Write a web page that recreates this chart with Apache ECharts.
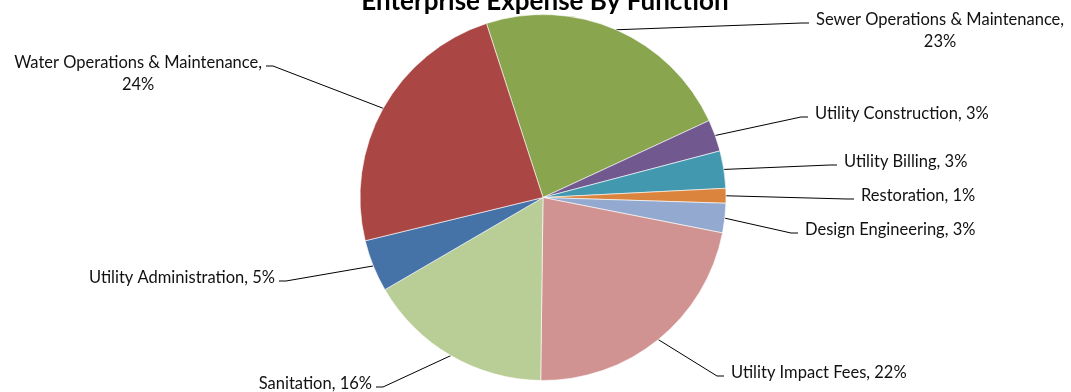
<!DOCTYPE html>
<html>
<head>
<meta charset="utf-8">
<script src="https://cdn.jsdelivr.net/npm/echarts@6/dist/echarts.min.js"></script>
<style>
  html, body { margin: 0; padding: 0; background: #ffffff; }
  #chart { width: 1071px; height: 392px; }
</style>
</head>
<body>
<div id="chart"></div>
<script>
// Enterprise expense split by function (percent of total)
const chartTitle = 'Enterprise Expense By Function';
const categories = [
  'Sewer Operations & Maintenance',
  'Utility Construction',
  'Utility Billing',
  'Restoration',
  'Design Engineering',
  'Utility Impact Fees',
  'Sanitation',
  'Utility Administration',
  'Water Operations & Maintenance'
];
const shares = [23.1, 2.8, 3.3, 1.3, 2.6, 22.1, 16.4, 4.6, 23.8];
const sliceColors = [
  '#89A54E', '#71588F', '#4198AF', '#DB843D', '#93A9CF',
  '#D19392', '#B9CD96', '#4572A7', '#AA4643'
];

// Where each leader line meets its label: [x, y, side] (side 1 = label to the right)
const labelAnchors = [
  [809, 23, 1], [808, 117, 1], [837, 165, 1], [854, 199, 1], [798, 233, 1],
  [724, 376, 1], [376, 387, -1], [279, 281, -1], [266, 66, -1]
];

const LABEL_FONT = 16.5;
const LINE_H = 22;
const STUB = 7;

const chart = echarts.init(document.getElementById('chart'), null, { renderer: 'canvas' });

const data = categories.map((name, i) => ({
  name: name,
  value: shares[i],
  itemStyle: { color: sliceColors[i] }
}));

chart.setOption({
  backgroundColor: '#ffffff',
  animation: false,
  title: {
    text: chartTitle,
    left: 540,
    top: -16.5,
    textAlign: 'center',
    textStyle: {
      fontFamily: 'Lato',
      fontWeight: 'bold',
      fontSize: 26,
      color: '#000000'
    }
  },
  series: [{
    type: 'pie',
    center: [543, 197.5],
    radius: 183,
    startAngle: 108,
    clockwise: true,
    avoidLabelOverlap: false,
    percentPrecision: 0,
    itemStyle: { borderColor: '#ffffff', borderWidth: 0.6 },
    emphasis: { disabled: true },
    label: {
      show: true,
      position: 'outside',
      fontFamily: 'Lato',
      fontSize: LABEL_FONT,
      lineHeight: LINE_H,
      color: '#111111',
      formatter: function (p) {
        const s = p.name + ', ' + p.percent + '%';
        return s.length > 30 ? p.name + ',\n' + p.percent + '%' : s;
      }
    },
    labelLine: {
      show: true,
      length: 10,
      length2: 10,
      lineStyle: { color: '#000000', width: 1 }
    },
    labelLayout: function (p) {
      const a = labelAnchors[p.dataIndex];
      const ax = a[0], ay = a[1], side = a[2];
      const start = (p.labelLinePoints && p.labelLinePoints[0]) || [ax, ay];
      const w = p.labelRect.width;
      const h = p.labelRect.height;
      const multi = h > LINE_H * 1.5;
      const gap = side > 0 ? 7 : 4;
      let x, align;
      if (multi) {
        x = ax + side * (gap + w / 2);
        align = 'center';
      } else {
        x = ax + side * gap;
        align = side > 0 ? 'left' : 'right';
      }
      return {
        x: x,
        y: ay - 3.5 - LINE_H / 2,
        align: align,
        verticalAlign: 'top',
        labelLinePoints: [start, [ax - side * STUB, ay], [ax, ay]]
      };
    },
    data: data
  }]
});
</script>
</body>
</html>
